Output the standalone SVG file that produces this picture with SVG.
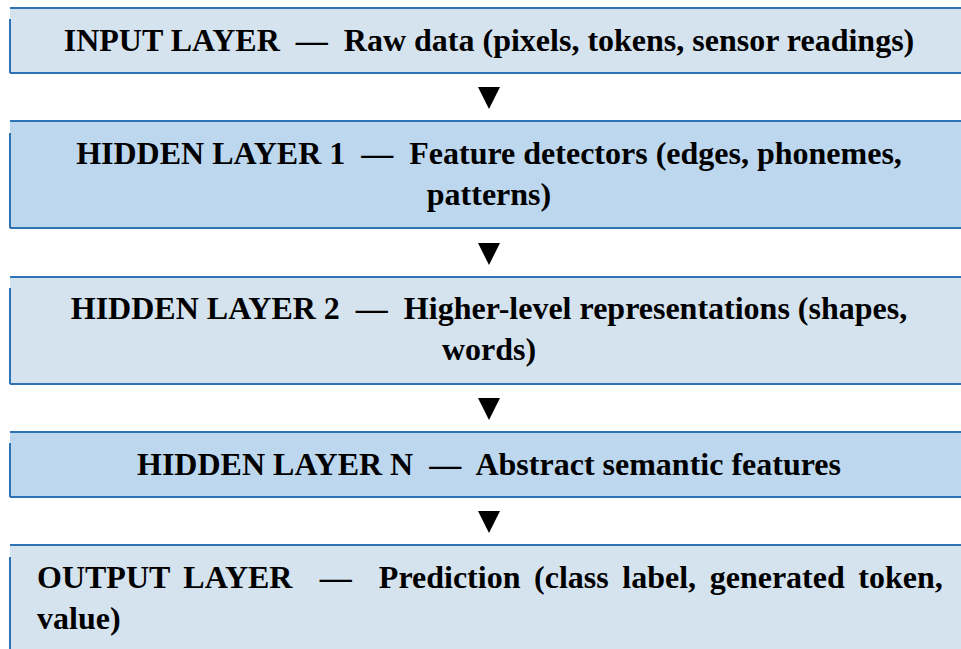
<svg xmlns="http://www.w3.org/2000/svg" width="961" height="649" viewBox="0 0 961 649">
<style>
.light{fill:#d5e3ef}
.dark{fill:#bdd7ee}
.bd{stroke:#2e74b5;stroke-width:2;fill:none}
text{font-family:"Liberation Serif","Times New Roman",serif;font-weight:bold;font-size:32px;fill:#000}
.c{text-anchor:middle}
.arr{fill:#000}
</style>
<rect width="961" height="649" fill="#fff"/>
<g id="input">
<rect class="light" x="10" y="8" width="960" height="65"/>
<path class="bd" d="M10,8H961M10,73H961M10,19V73"/>
<text class="c" x="489" y="51" xml:space="preserve">INPUT LAYER  —  Raw data (pixels, tokens, sensor readings)</text>
</g>
<g id="hidden1">
<rect class="dark" x="10" y="121" width="960" height="107"/>
<path class="bd" d="M10,121H961M10,228H961M10,133V228"/>
<text class="c" x="489" y="164" xml:space="preserve">HIDDEN LAYER 1  —  Feature detectors (edges, phonemes,</text>
<text class="c" x="489" y="205">patterns)</text>
</g>
<g id="hidden2">
<rect class="light" x="10" y="277" width="960" height="107"/>
<path class="bd" d="M10,277H961M10,384H961M10,288V384"/>
<text class="c" x="489" y="319" xml:space="preserve">HIDDEN LAYER 2  —  Higher-level representations (shapes,</text>
<text class="c" x="489" y="360">words)</text>
</g>
<g id="hiddenN">
<rect class="dark" x="10" y="432" width="960" height="65"/>
<path class="bd" d="M10,432H961M10,497H961M10,443V497"/>
<text class="c" x="489" y="475" xml:space="preserve">HIDDEN LAYER N  —  Abstract semantic features</text>
</g>
<g id="output">
<rect class="light" x="10" y="545" width="960" height="110"/>
<path class="bd" d="M10,545H961M10,557V649"/>
<text x="37" y="588" xml:space="preserve" word-spacing="5.6">OUTPUT LAYER  —  Prediction (class label, generated token,</text>
<text x="37" y="629">value)</text>
</g>
<g id="connectors">
<polygon class="arr" points="478,87 500,87 489,109"/>
<polygon class="arr" points="478,243 500,243 489,265"/>
<polygon class="arr" points="478,398 500,398 489,420"/>
<polygon class="arr" points="478,511 500,511 489,533"/>
</g>
</svg>
